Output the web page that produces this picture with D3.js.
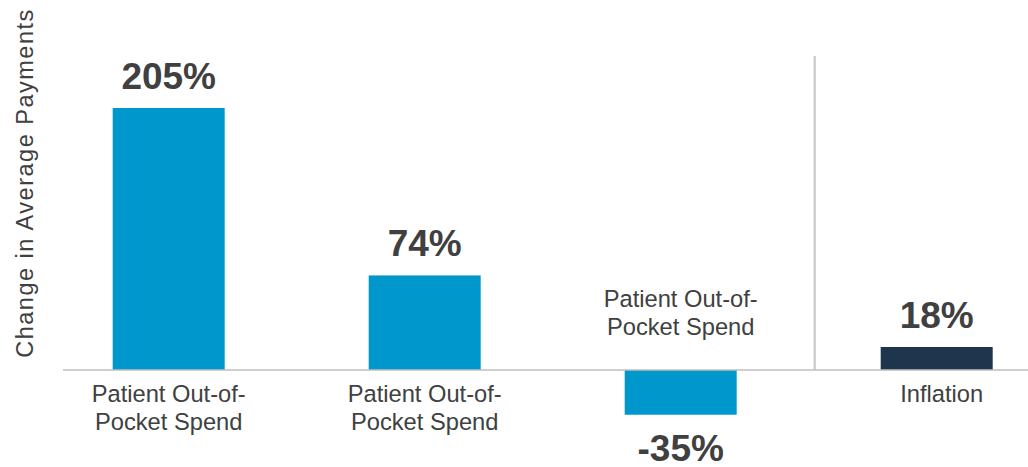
<!DOCTYPE html>
<html>
<head>
<meta charset="utf-8">
<script src="https://cdn.jsdelivr.net/npm/d3@7"></script>
<style>
  html, body { margin: 0; padding: 0; background: #ffffff; }
  svg { display: block; }
  text { font-family: "Liberation Sans", Arial, sans-serif; }
</style>
</head>
<body>
<div id="chart"></div>
<script>
// Categories and their percent change in average payments
const categories = ["Spend A", "Spend B", "Spend C", "Inflation"];
const categoryLabels = [
  ["Patient Out-of-", "Pocket Spend"],
  ["Patient Out-of-", "Pocket Spend"],
  ["Patient Out-of-", "Pocket Spend"],
  ["Inflation"]
];
const values = [205, 74, -35, 18];
const valueLabels = ["205%", "74%", "-35%", "18%"];
const barColors = ["#0098CC", "#0098CC", "#0098CC", "#1F344D"];
const yTitle = "Change in Average Payments";

const width = 1028, height = 467;
const baseY = 370;

const svg = d3.select("#chart").append("svg")
  .attr("width", width)
  .attr("height", height);

const x = d3.scaleBand()
  .domain(categories)
  .range([40.7, 1064.7])
  .paddingInner(0.5625)
  .paddingOuter(0.28125);

const y = d3.scaleLinear()
  .domain([0, 205])
  .range([baseY, 108]);

// Bars
svg.selectAll("rect.bar")
  .data(values)
  .join("rect")
  .attr("class", "bar")
  .attr("x", (d, i) => x(categories[i]))
  .attr("width", x.bandwidth())
  .attr("y", d => Math.min(y(d), y(0)))
  .attr("height", d => Math.abs(y(d) - y(0)))
  .attr("fill", (d, i) => barColors[i]);

// Zero line
svg.append("line")
  .attr("x1", 63).attr("x2", width)
  .attr("y1", y(0)).attr("y2", y(0))
  .attr("stroke", "#BFBFBF")
  .attr("stroke-width", 1.5);

// Divider before the inflation bar
const divX = x(categories[3]) - 66;
svg.append("line")
  .attr("x1", divX).attr("x2", divX)
  .attr("y1", 56).attr("y2", y(0))
  .attr("stroke", "#C4C4C4")
  .attr("stroke-width", 2);

// Value labels
svg.selectAll("text.value")
  .data(values)
  .join("text")
  .attr("class", "value")
  .attr("x", (d, i) => x(categories[i]) + x.bandwidth() / 2)
  .attr("y", d => d >= 0 ? y(d) - 19 : y(d) + 46)
  .attr("text-anchor", "middle")
  .attr("font-size", 37)
  .attr("font-weight", "bold")
  .attr("fill", "#404040")
  .text((d, i) => valueLabels[i]);

// Category labels: below the axis for positive bars, above it for negative ones
categories.forEach((c, i) => {
  const lines = categoryLabels[i];
  const cx = x(c) + x.bandwidth() / 2 + (c === "Inflation" ? 5 : 0);
  const startY = values[i] >= 0 ? 402 : 307;
  const t = svg.append("text")
    .attr("text-anchor", "middle")
    .attr("font-size", 23.7)
    .attr("fill", "#404040");
  lines.forEach((ln, k) => {
    t.append("tspan")
      .attr("x", cx)
      .attr("y", startY + k * 28)
      .text(ln);
  });
});

// Y axis title
svg.append("text")
  .attr("transform", `translate(33,183) rotate(-90)`)
  .attr("text-anchor", "middle")
  .attr("font-size", 23.5)
  .attr("letter-spacing", 1.5)
  .attr("fill", "#404040")
  .text(yTitle);
</script>
</body>
</html>
